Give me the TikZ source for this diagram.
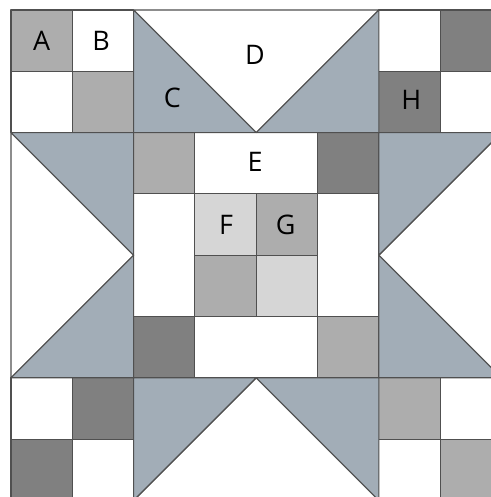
\documentclass[tikz,border=0pt]{standalone}
\usepackage{fontspec}
\setmainfont{Open Sans}
\usetikzlibrary{positioning}
\definecolor{qBlue}{HTML}{A2ADB7}
\definecolor{qMid}{HTML}{ADADAD}
\definecolor{qDark}{HTML}{808080}
\definecolor{qLight}{HTML}{D6D6D6}
\definecolor{qSeam}{HTML}{505050}
\tikzset{
  seam/.style     = {draw=qSeam, line width=0.5pt, line join=round},
  blank/.style    = {seam, fill=white},
  midsq/.style    = {seam, fill=qMid},
  darksq/.style   = {seam, fill=qDark},
  lightsq/.style  = {seam, fill=qLight},
  goose/.style    = {seam, fill=qBlue},
  lbl/.style      = {font=\fontsize{12.5}{14}\selectfont, text=black, inner sep=0pt},
}

\begin{document}
\begin{tikzpicture}[x=1cm, y=1cm]
  \useasboundingbox (-0.18,0.055) rectangle (7.83,8.163);
  \clip (-0.18,0.055) rectangle (7.83,8.163);

  % corner four-patches, cell (c,r) counted from the top left
  \foreach \c/\r in {1/0, 0/1, 6/0, 7/1, 0/6, 1/7, 7/6, 6/7}
    \draw[blank] (\c,7-\r) rectangle ++(1,1);
  \foreach \c/\r in {0/0, 1/1, 2/2, 4/3, 3/4, 5/5, 6/6, 7/7}
    \draw[midsq] (\c,7-\r) rectangle ++(1,1);
  \foreach \c/\r in {7/0, 6/1, 5/2, 2/5, 1/6, 0/7}
    \draw[darksq] (\c,7-\r) rectangle ++(1,1);
  \foreach \c/\r in {3/3, 4/4}
    \draw[lightsq] (\c,7-\r) rectangle ++(1,1);

  % centre bars
  \draw[blank] (3,5) rectangle (5,6);
  \draw[blank] (3,2) rectangle (5,3);
  \draw[blank] (2,3) rectangle (3,5);
  \draw[blank] (5,3) rectangle (6,5);

  % flying geese, top
  \draw[blank] (2,8) -- (6,8) -- (4,6) -- cycle;
  \draw[goose] (2,8) -- (2,6) -- (4,6) -- cycle;
  \draw[goose] (6,8) -- (6,6) -- (4,6) -- cycle;
  % left
  \draw[blank] (0,6) -- (0,2) -- (2,4) -- cycle;
  \draw[goose] (0,6) -- (2,6) -- (2,4) -- cycle;
  \draw[goose] (0,2) -- (2,2) -- (2,4) -- cycle;
  % right
  \draw[blank] (8,6) -- (8,2) -- (6,4) -- cycle;
  \draw[goose] (8,6) -- (6,6) -- (6,4) -- cycle;
  \draw[goose] (8,2) -- (6,2) -- (6,4) -- cycle;
  % bottom
  \draw[blank] (2,0) -- (6,0) -- (4,2) -- cycle;
  \draw[goose] (2,0) -- (2,2) -- (4,2) -- cycle;
  \draw[goose] (6,0) -- (6,2) -- (4,2) -- cycle;

  % labels
  \node[lbl] (labA) at (0.5,7.5)   {A};
  \node[lbl] (labB) at (1.47,7.5)  {B};
  \node[lbl] (labC) at (2.63,6.56) {C};
  \node[lbl] (labD) at (3.98,7.27) {D};
  \node[lbl] (labE) at (3.98,5.52) {E};
  \node[lbl] (labF) at (3.51,4.5)  {F};
  \node[lbl] (labG) at (4.48,4.5)  {G};
  \node[lbl] (labH) at (6.53,6.53) {H};
\end{tikzpicture}
\end{document}
